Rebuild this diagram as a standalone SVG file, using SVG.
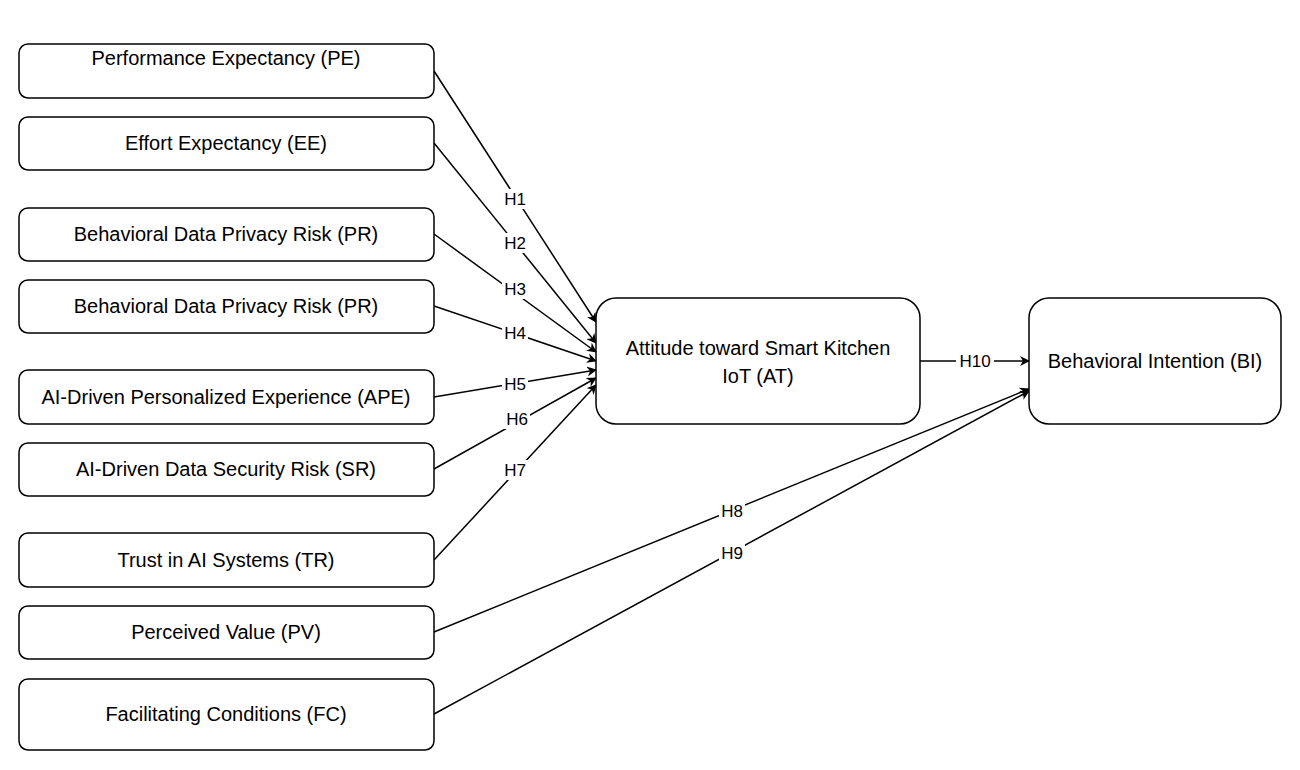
<svg xmlns="http://www.w3.org/2000/svg" width="1300" height="770" viewBox="0 0 1300 770">
<style>
.n{fill:#fff;stroke:#000;stroke-width:1.5}
text{font-family:"Liberation Sans",Arial,sans-serif;font-size:20px;fill:#000;text-anchor:middle;dominant-baseline:central}
.l{font-size:17px}
.c{stroke:#000;stroke-width:1.5;fill:none;marker-end:url(#a)}
.bg{fill:#fff}
</style>
<defs><marker id="a" markerWidth="10" markerHeight="10" refX="9" refY="5" orient="auto" markerUnits="userSpaceOnUse"><path d="M0,0 L10,5 L0,10 L3,5 Z" fill="#000"/></marker></defs>
<rect width="1300" height="770" fill="#fff"/>
<g id="connectors">
<path class="c" d="M434,71 L596,322"/>
<path class="c" d="M434,143 L596,343"/>
<path class="c" d="M434,234 L596,352"/>
<path class="c" d="M434,306 L596,361"/>
<path class="c" d="M434,397 L596,370"/>
<path class="c" d="M434,469 L596,378"/>
<path class="c" d="M434,560 L596,385"/>
<path class="c" d="M434,632 L1029,389"/>
<path class="c" d="M434,714 L1029,391"/>
<path class="c" d="M920,361 L1029,361"/>
<g>
<rect class="bg" x="502" y="189" width="26" height="20"/><text class="l" x="515" y="199">H1</text>
<rect class="bg" x="502" y="233" width="26" height="20"/><text class="l" x="515" y="243">H2</text>
<rect class="bg" x="502" y="279" width="26" height="20"/><text class="l" x="515" y="289">H3</text>
<rect class="bg" x="502" y="323" width="26" height="20"/><text class="l" x="515" y="333">H4</text>
<rect class="bg" x="502" y="374" width="26" height="20"/><text class="l" x="515" y="384">H5</text>
<rect class="bg" x="504" y="409" width="26" height="20"/><text class="l" x="517" y="419">H6</text>
<rect class="bg" x="502" y="460" width="26" height="20"/><text class="l" x="515" y="470">H7</text>
<rect class="bg" x="719" y="501" width="26" height="20"/><text class="l" x="732" y="511">H8</text>
<rect class="bg" x="719" y="543" width="26" height="20"/><text class="l" x="732" y="553">H9</text>
<rect class="bg" x="956" y="351" width="38" height="20"/><text class="l" x="975" y="361">H10</text>
</g>
</g>
<g id="PE"><rect class="n" x="19" y="44" width="415" height="54" rx="9"/><text x="226" y="58">Performance Expectancy (PE)</text></g>
<g id="EE"><rect class="n" x="19" y="117" width="415" height="53" rx="9"/><text x="226" y="143">Effort Expectancy (EE)</text></g>
<g id="PR1"><rect class="n" x="19" y="208" width="415" height="53" rx="9"/><text x="226" y="234">Behavioral Data Privacy Risk (PR)</text></g>
<g id="PR2"><rect class="n" x="19" y="280" width="415" height="53" rx="9"/><text x="226" y="306">Behavioral Data Privacy Risk (PR)</text></g>
<g id="APE"><rect class="n" x="19" y="370" width="415" height="54" rx="9"/><text x="226" y="397">AI-Driven Personalized Experience (APE)</text></g>
<g id="SR"><rect class="n" x="19" y="443" width="415" height="53" rx="9"/><text x="226" y="469">AI-Driven Data Security Risk (SR)</text></g>
<g id="TR"><rect class="n" x="19" y="533" width="415" height="54" rx="9"/><text x="226" y="560">Trust in AI Systems (TR)</text></g>
<g id="PV"><rect class="n" x="19" y="606" width="415" height="53" rx="9"/><text x="226" y="632">Perceived Value (PV)</text></g>
<g id="FC"><rect class="n" x="19" y="679" width="415" height="71" rx="9"/><text x="226" y="714">Facilitating Conditions (FC)</text></g>
<g id="AT"><rect class="n" x="596" y="298" width="324" height="126" rx="20"/><text x="758" y="348">Attitude toward Smart Kitchen</text><text x="758" y="376">IoT (AT)</text></g>
<g id="BI"><rect class="n" x="1029" y="298" width="252" height="126" rx="20"/><text x="1155" y="361">Behavioral Intention (BI)</text></g>
</svg>
